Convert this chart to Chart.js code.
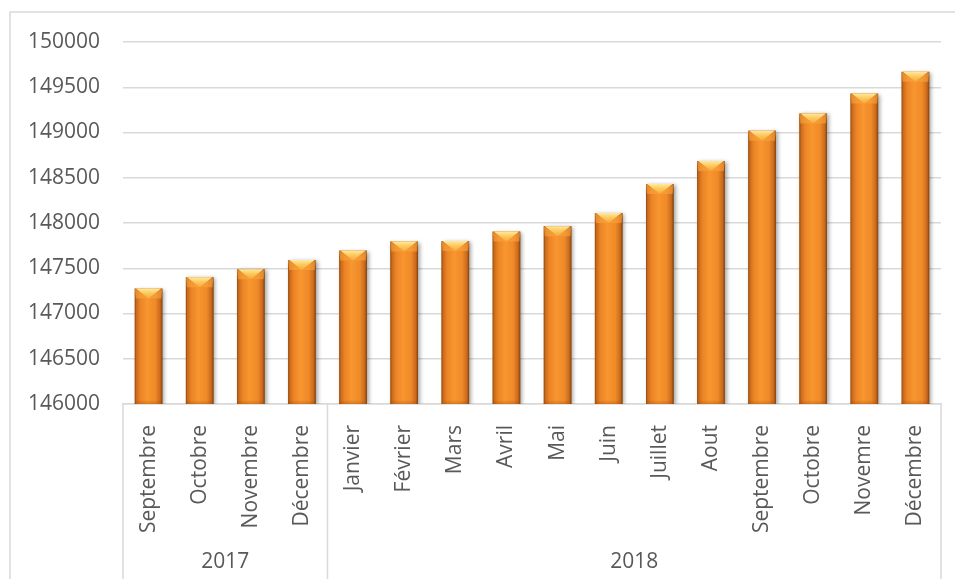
<!DOCTYPE html>
<html>
<head>
<meta charset="utf-8">
<script src="https://cdn.jsdelivr.net/npm/chart.js@4.4.1/dist/chart.umd.min.js"></script>
<style>
  html, body { margin: 0; padding: 0; background: #fff; }
  #wrap { width: 955px; height: 579px; }
</style>
</head>
<body>
<div id="wrap"><canvas id="mycanvas"></canvas></div>
<script>
// monthly figures, Sept 2017 -> Dec 2018
var months = ['Septembre', 'Octobre', 'Novembre', 'Décembre',
  'Janvier', 'Février', 'Mars', 'Avril', 'Mai', 'Juin', 'Juillet', 'Aout',
  'Septembre', 'Octobre', 'Novemre', 'Décembre'];
var values = [147275, 147400, 147490, 147590,
  147695, 147795, 147800, 147905, 147965, 148110, 148430, 148685,
  149020, 149210, 149430, 149670];
var years = ['2017', '2018'];
var yearSpans = [4, 12]; // number of months under each year

var textColor = '#595959';
var lineColor = '#d9d9d9';

Chart.defaults.font.family = "'Open Sans', sans-serif";
Chart.defaults.color = textColor;

// bars with an orange gradient, a bevelled top and a soft shadow
var bevelBars = {
  id: 'bevelBars',
  afterDatasetsDraw: function(chart) {
    var ctx = chart.ctx;
    var area = chart.chartArea;
    var meta = chart.getDatasetMeta(0);
    meta.data.forEach(function(bar) {
      var p = bar.getProps(['x', 'y', 'base', 'width'], true);
      var x0 = p.x - p.width / 2, x1 = p.x + p.width / 2;
      var top = p.y, bottom = Math.min(p.base, area.bottom), w = p.width;

      ctx.save();
      ctx.beginPath();
      ctx.rect(0, 0, chart.width, area.bottom);
      ctx.clip();
      // body
      var g = ctx.createLinearGradient(x0, 0, x1, 0);
      g.addColorStop(0, '#8f4a12');
      g.addColorStop(0.06, '#c86a1c');
      g.addColorStop(0.2, '#ec8426');
      g.addColorStop(0.45, '#f8962f');
      g.addColorStop(0.75, '#ef8a28');
      g.addColorStop(0.92, '#c9691c');
      g.addColorStop(1, '#7e4210');
      ctx.shadowColor = 'rgba(0,0,0,0.35)';
      ctx.shadowBlur = 4;
      ctx.shadowOffsetX = 2;
      ctx.shadowOffsetY = 1;
      ctx.fillStyle = g;
      ctx.fillRect(x0, top, w, bottom - top);
      ctx.restore();

      ctx.save();
      var h = Math.min(10, (bottom - top) / 2);
      // side facets of the top bevel
      ctx.fillStyle = 'rgba(250,165,60,0.6)';
      ctx.beginPath();
      ctx.moveTo(x0, top); ctx.lineTo(p.x, top + h); ctx.lineTo(x0 + 1, top + h);
      ctx.closePath(); ctx.fill();
      ctx.beginPath();
      ctx.moveTo(x1, top); ctx.lineTo(p.x, top + h); ctx.lineTo(x1 - 1, top + h);
      ctx.closePath(); ctx.fill();
      // lit upper facet
      var gy = ctx.createLinearGradient(0, top, 0, top + h);
      gy.addColorStop(0, '#fee9a0');
      gy.addColorStop(0.45, '#fcca5e');
      gy.addColorStop(1, '#f7a83c');
      ctx.fillStyle = gy;
      ctx.beginPath();
      ctx.moveTo(x0 + 1, top); ctx.lineTo(x1 - 1, top); ctx.lineTo(p.x, top + h);
      ctx.closePath(); ctx.fill();
      // slight darkening at the foot
      var gb = ctx.createLinearGradient(0, bottom - 4, 0, bottom);
      gb.addColorStop(0, 'rgba(150,70,10,0)');
      gb.addColorStop(1, 'rgba(150,70,10,0.35)');
      ctx.fillStyle = gb;
      ctx.fillRect(x0, bottom - 4, w, 4);
      ctx.restore();
    });
  }
};

// outer frame, group dividers under the axis and the year labels
var groupAxis = {
  id: 'groupAxis',
  afterDraw: function(chart) {
    var ctx = chart.ctx;
    var xs = chart.scales.x;
    var area = chart.chartArea;
    var H = chart.height, W = chart.width;
    ctx.save();
    ctx.strokeStyle = lineColor;
    ctx.lineWidth = 1.5;
    ctx.beginPath();
    ctx.moveTo(10, H); ctx.lineTo(10, 12); ctx.lineTo(W, 12);
    ctx.stroke();

    var half = (xs.getPixelForValue(1) - xs.getPixelForValue(0)) / 2;
    var start = 0;
    var edges = [area.left];
    ctx.fillStyle = textColor;
    ctx.font = "21px 'Open Sans', sans-serif";
    ctx.textAlign = 'center';
    ctx.textBaseline = 'middle';
    years.forEach(function(y, i) {
      var end = start + yearSpans[i] - 1;
      var l = xs.getPixelForValue(start) - half;
      var r = xs.getPixelForValue(end) + half;
      edges.push(r);
      ctx.fillText(y, (l + r) / 2, 562);
      start = end + 1;
    });
    ctx.beginPath();
    edges.forEach(function(x) {
      ctx.moveTo(x, area.bottom); ctx.lineTo(x, H);
    });
    ctx.stroke();
    ctx.restore();
  }
};

var ctx = document.getElementById('mycanvas');

var barGraph = new Chart(ctx, {
  type: 'bar',
  data: {
    labels: months,
    datasets: [{
      data: values,
      backgroundColor: '#f28a2a',
      borderWidth: 0,
      categoryPercentage: 1,
      barPercentage: 0.54
    }]
  },
  options: {
    responsive: true,
    maintainAspectRatio: false,
    animation: false,
    layout: { padding: { left: 10, top: 42, right: 14, bottom: 0 } },
    plugins: { legend: { display: false }, tooltip: { enabled: false } },
    scales: {
      x: {
        grid: { display: false },
        border: { display: true, color: lineColor, width: 1.5 },
        ticks: {
          autoSkip: false,
          minRotation: 90,
          maxRotation: 90,
          padding: 13,
          font: { size: 21 },
          color: textColor
        },
        afterFit: function(scale) { scale.height = 175; }
      },
      y: {
        min: 146000,
        max: 150000,
        grid: { color: lineColor, lineWidth: 1.5, drawTicks: false },
        border: { display: false },
        ticks: {
          stepSize: 500,
          padding: 23,
          font: { size: 21 },
          color: textColor,
          callback: function(v) { return String(v); }
        },
        afterFit: function(scale) { scale.width = 113; }
      }
    }
  },
  plugins: [bevelBars, groupAxis]
});
</script>
</body>
</html>
